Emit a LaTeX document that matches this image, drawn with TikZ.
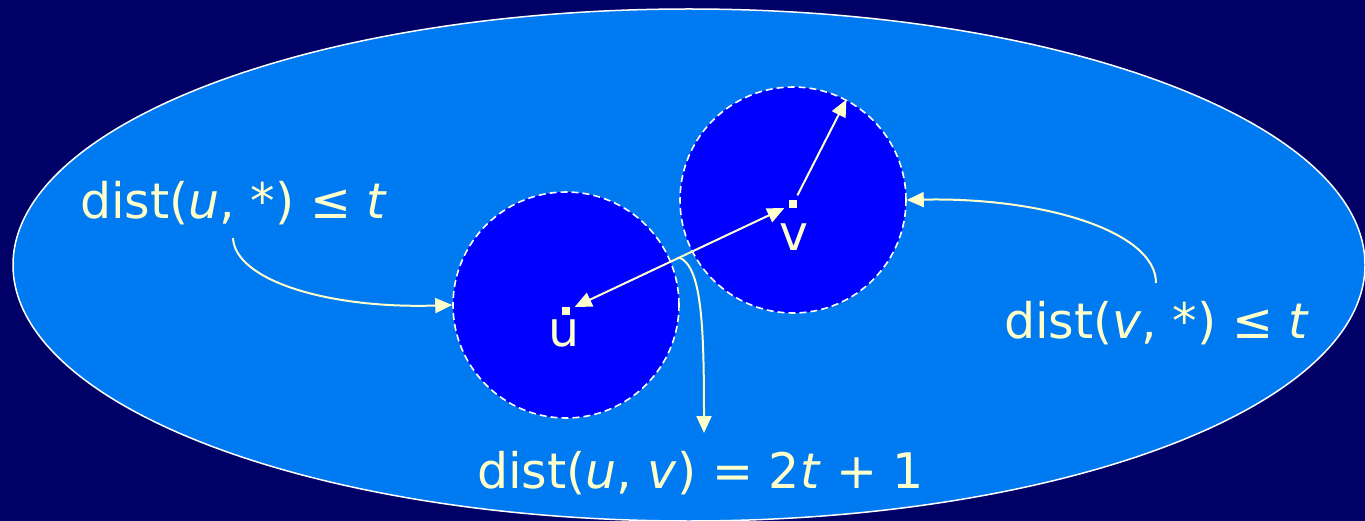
\documentclass[tikz,border=0pt]{standalone}
\usepackage{fontspec}
\setmainfont{DejaVu Sans}
\usepackage{tikz}
\usetikzlibrary{arrows.meta}
\definecolor{navybg}{RGB}{0,0,102}
\definecolor{fieldblue}{RGB}{0,122,240}
\definecolor{ballblue}{RGB}{0,0,255}
\definecolor{paleyel}{RGB}{255,255,204}
\tikzset{
  ballc/.style   = {circle, fill=ballblue, draw=white, line width=1.6pt,
                    dash pattern=on 7pt off 4pt, minimum size=226pt, inner sep=0pt},
  centerdot/.style = {fill=paleyel, minimum size=8pt, inner sep=0pt},
  bigtxt/.style  = {paleyel, font=\fontsize{49}{58}\selectfont, inner sep=0pt},
  distarr/.style = {-{Triangle[length=17pt,width=15pt]}, paleyel, line width=2pt}
}

\begin{document}
\begin{tikzpicture}[x=1pt,y=-1pt]
  \useasboundingbox (0,0) rectangle (1365,521);
  \fill[navybg] (0,0) rectangle (1365,521);
  \filldraw[fill=fieldblue, draw=white, line width=1.5pt] (689,265) ellipse [x radius=676, y radius=256];
  % the two balls of radius t
  \node[ballc] (ballu) at (566,305) {};
  \node[ballc] (ballv) at (793,200) {};
  \node[centerdot] (du) at (566,311) {};
  \node[centerdot] (dv) at (793,204) {};
  \node[bigtxt, anchor=base] (lu) at (564,346) {u};
  \node[bigtxt, anchor=base] (lv) at (794,251) {v};
  % labels
  \node[bigtxt, anchor=base west] (tu) at (80,219) {dist(\textit{u}, *) ≤ \textit{t}};
  \node[bigtxt, anchor=base west] (tv) at (1004,338) {dist(\textit{v}, *) ≤ \textit{t}};
  \node[bigtxt, anchor=base west] (tuv) at (477,488) {dist(\textit{u}, \textit{v}) = 2\textit{t} + 1};
  % arrows
  \draw[distarr, {Triangle[length=17pt,width=15pt]}-{Triangle[length=17pt,width=15pt]}, shorten <=5pt, shorten >=5pt]
    (du) -- coordinate[midway] (mid) (dv);
  \draw[distarr, shorten <=5pt] (dv) -- (ballv.62);
  \coordinate (tipu) at (233,238);
  \coordinate (tipv) at (1156,283);
  \coordinate (tipuv) at (704,433);
  \draw[distarr] (tipu) .. controls +(2,42) and +(-125,4) .. (ballu.west);
  \draw[distarr] (tipv) .. controls +(0,-52) and +(135,-3) .. (ballv.east);
  \draw[distarr] (mid) .. controls +(22,10) and +(0,-110) .. (tipuv);
\end{tikzpicture}
\end{document}
